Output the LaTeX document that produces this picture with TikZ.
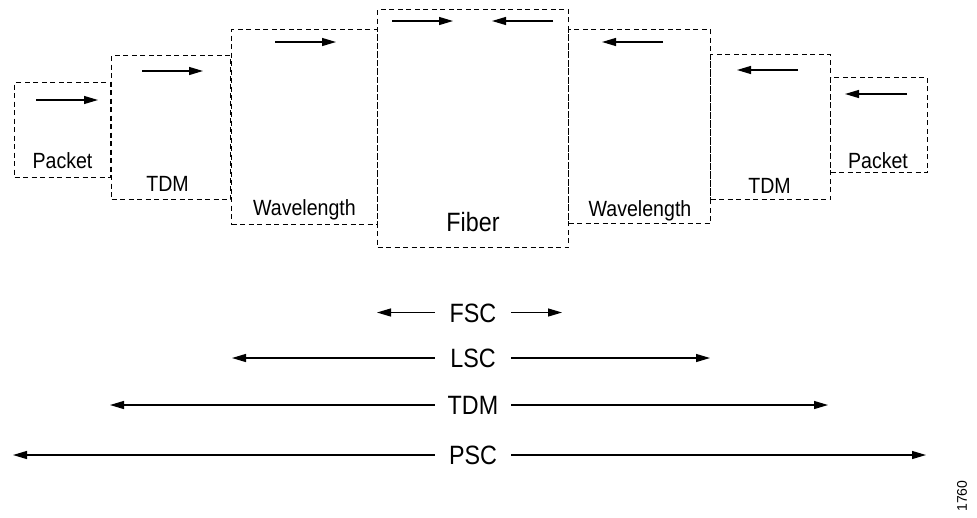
\documentclass[tikz,border=0pt]{standalone}
\usepackage{fontspec}
\setmainfont{Liberation Sans}
\newfontfamily\labfont{Liberation Sans}[FakeStretch=0.89]
\newfontfamily\biglabfont{Liberation Sans}[FakeStretch=0.88]
\usetikzlibrary{arrows.meta}
\tikzset{
  layerbox/.style={draw=black, line width=1pt, dash pattern=on 5pt off 3.5pt, inner sep=0pt, anchor=north west},
  arr/.style={line width=1.2pt, -{Triangle[length=14pt,width=8pt]}},
  smalllab/.style={font=\labfont\fontsize{22}{22}\selectfont, inner sep=0pt, anchor=base},
  biglab/.style={font=\biglabfont\fontsize{26.5}{26.5}\selectfont, inner sep=0pt, anchor=base},
  scope/.style={font=\biglabfont\fontsize{26.5}{26.5}\selectfont, inner sep=0pt, text height=19pt, text depth=0pt, minimum width=76pt}
}
\begin{document}
\begin{tikzpicture}[x=1pt,y=-1pt]
\useasboundingbox (0,0) rectangle (977,517);
% boxes
\node[layerbox, minimum width=96pt,  minimum height=95pt]  (lp) at (14,82) {};
\node[layerbox, minimum width=119pt, minimum height=144pt] (lt) at (111,55) {};
\node[layerbox, minimum width=146pt, minimum height=195pt] (lw) at (231,29) {};
\node[layerbox, minimum width=191pt, minimum height=238pt] (fb) at (377,9) {};
\node[layerbox, minimum width=142pt, minimum height=194pt] (rw) at (568,29) {};
\node[layerbox, minimum width=120pt, minimum height=145pt] (rt) at (710,54) {};
\node[layerbox, minimum width=97pt,  minimum height=95pt]  (rp) at (830,77) {};
% box labels
\node[smalllab] (lpt) at (62.5,168) {Packet};
\node[smalllab] (ltt) at (167.5,191) {TDM};
\node[smalllab] (lwt) at (304.5,215) {Wavelength};
\node[biglab]   (fbt) at (473,231) {Fiber};
\node[smalllab] (rwt) at (640,216) {Wavelength};
\node[smalllab] (rtt) at (769.5,193) {TDM};
\node[smalllab] (rpt) at (878,168) {Packet};
% direction arrows
\coordinate (a1s) at (36,100);  \coordinate (a1e) at (98,100);
\coordinate (a2s) at (142,71);  \coordinate (a2e) at (203,71);
\coordinate (a3s) at (275,42);  \coordinate (a3e) at (336,42);
\coordinate (a4s) at (392,21);  \coordinate (a4e) at (453,21);
\coordinate (a5s) at (553,21);  \coordinate (a5e) at (492,21);
\coordinate (a6s) at (663,42);  \coordinate (a6e) at (602,42);
\coordinate (a7s) at (798,70);  \coordinate (a7e) at (737,70);
\coordinate (a8s) at (907,94);  \coordinate (a8e) at (845,94);
\foreach \i in {1,...,8} { \draw[arr] (a\i s) -- (a\i e); }
% switching capability scopes
\node[scope] (fsc) at (473,312.5) {FSC};
\node[scope] (lsc) at (473,358)   {LSC};
\node[scope] (tdm) at (473,405)   {TDM};
\node[scope] (psc) at (473,455)   {PSC};
\coordinate (fscL) at (377,312.5); \coordinate (fscR) at (562,312.5);
\coordinate (lscL) at (232,358);   \coordinate (lscR) at (710,358);
\coordinate (tdmL) at (110,405);   \coordinate (tdmR) at (828,405);
\coordinate (pscL) at (13,455);    \coordinate (pscR) at (926,455);
\foreach \n in {fsc,lsc,tdm,psc} {
  \draw[arr] (\n.west) -- (\n L);
  \draw[arr] (\n.east) -- (\n R);
}
\node[font=\fontsize{14}{14}\selectfont, rotate=90, inner sep=0pt] (fig) at (962,496) {1760};
\end{tikzpicture}
\end{document}
